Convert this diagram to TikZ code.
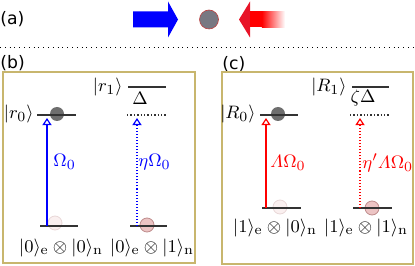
\documentclass[tikz,border=0pt]{standalone}
\usepackage[no-math]{fontspec}
\newfontfamily\lblfont{DejaVu Sans}
\usetikzlibrary{arrows.meta}
\definecolor{boxc}{RGB}{200,182,110}
\definecolor{redA}{RGB}{232,20,40}
\definecolor{atomgray}{RGB}{120,120,130}
\definecolor{darkatom}{RGB}{110,110,110}
\definecolor{faintfill}{RGB}{250,240,240}
\definecolor{faintedge}{RGB}{232,215,215}
\definecolor{pinkfill}{RGB}{236,196,196}
\definecolor{pinkedge}{RGB}{190,140,140}
\newcommand\itLambda{\mathchar"0103}
\begin{document}
\begin{tikzpicture}[x=0.5pt,y=-0.5pt,
  lvl/.style={line width=0.9pt, draw=black!80},
  vlvl/.style={densely dotted, line width=0.7pt, draw=black!80},
  panelbox/.style={draw=boxc, line width=0.6pt},
  lbl/.style={font=\lblfont\fontsize{8.6}{10}\selectfont, inner sep=0pt, anchor=west},
  ket/.style={inner sep=0pt, font=\fontsize{9.4}{11}\selectfont},
  atomdark/.style={fill=darkatom},
  atomfaint/.style={fill=faintfill, draw=faintedge, line width=0.4pt},
  atompink/.style={fill=pinkfill, draw=pinkedge, line width=0.4pt},
  tipO/.style={-{Triangle[open,length=3.6pt,width=4.6pt,line width=0.6pt]}, line width=0.52pt},
]
\useasboundingbox (0,0) rectangle (415,266);
% (a)
\node[lbl] (la) at (0,19.5) {(a)};
\fill[blue] (133,11.5) -- (168,11.5) -- (168,1.5) -- (178,19.5) -- (168,37.5) -- (168,27.5) -- (133,27.5) -- cycle;
\draw[fill=atomgray, draw=red!50!gray, line width=0.3pt] (209,19.5) circle (9.5);
\fill[redA] (239,19.5) -- (250,1.5) -- (250,37.5) -- cycle;
\fill[red] (249.5,11.5) rectangle (262,27.5);
\shade[left color=red, right color=white] (261.8,11.5) rectangle (285,27.5);
\draw[dotted, line width=0.4pt] (0,47) -- (415,47);
% (b)
\node[lbl] (lb) at (0,63) {(b)};
\draw[panelbox] (3,72) rectangle (195,263);
\fill[atomdark] (57,114) circle (7);
\draw[lvl] (37,115) -- (76,115);
\draw[atomfaint] (55,223) circle (7);
\draw[lvl] (40,226) -- (78,226);
\coordinate (b1s) at (47,226);
\coordinate (b1e) at (47,118);
\draw[tipO, draw=blue] (b1s) -- (b1e);
\node[ket, anchor=east] (r0) at (34,114) {$|r_0\rangle$};
\node[ket, anchor=west, text=blue] (om0) at (53,162) {$\Omega_0$};
\draw[lvl] (128,87) -- (166,87);
\node[ket, anchor=east] (r1) at (123,87) {$|r_1\rangle$};
\node[ket] (dl) at (140,98) {$\Delta$};
\draw[vlvl] (127,115) -- (166,115);
\draw[atompink] (147,225) circle (7);
\draw[lvl] (130,226) -- (167,226);
\coordinate (b2s) at (137,226);
\coordinate (b2e) at (137,118);
\draw[tipO, draw=blue, densely dotted] (b2s) -- (b2e);
\node[ket, anchor=west, text=blue] (eom) at (138,162) {$\eta\Omega_0$};
\node[ket] (s00) at (61,248) {$|0\rangle_{\mathrm{e}}\otimes|0\rangle_{\mathrm{n}}$};
\node[ket] (s01) at (152,248) {$|0\rangle_{\mathrm{e}}\otimes|1\rangle_{\mathrm{n}}$};
% (c)
\node[lbl] (lc) at (222,64) {(c)};
\draw[panelbox] (222,72) rectangle (413,264);
\fill[atomdark] (278,114) circle (7);
\draw[lvl] (260,115) -- (298,115);
\draw[atomfaint] (280,207) circle (7);
\draw[lvl] (262,208) -- (301,208);
\coordinate (c1s) at (266,208);
\coordinate (c1e) at (266,118);
\draw[tipO, draw=red] (c1s) -- (c1e);
\node[ket, anchor=east] (R0) at (256,114) {$|R_0\rangle$};
\node[ket, anchor=west, text=red] (lom) at (270,163) {$\itLambda\Omega_0$};
\draw[lvl] (352,87) -- (389,87);
\node[ket, anchor=east] (R1) at (347,87) {$|R_1\rangle$};
\node[ket] (zdl) at (363,98) {$\zeta\Delta$};
\draw[vlvl] (350,115) -- (389,115);
\draw[atompink] (372,208) circle (7);
\draw[lvl] (353,208) -- (392,208);
\coordinate (c2s) at (360,208);
\coordinate (c2e) at (360,118);
\draw[tipO, draw=red, densely dotted] (c2s) -- (c2e);
\node[ket, anchor=west, text=red] (elom) at (362,163) {$\eta'\itLambda\Omega_0$};
\node[ket] (s10) at (275,228) {$|1\rangle_{\mathrm{e}}\otimes|0\rangle_{\mathrm{n}}$};
\node[ket] (s11) at (366,228) {$|1\rangle_{\mathrm{e}}\otimes|1\rangle_{\mathrm{n}}$};
\end{tikzpicture}
\end{document}
